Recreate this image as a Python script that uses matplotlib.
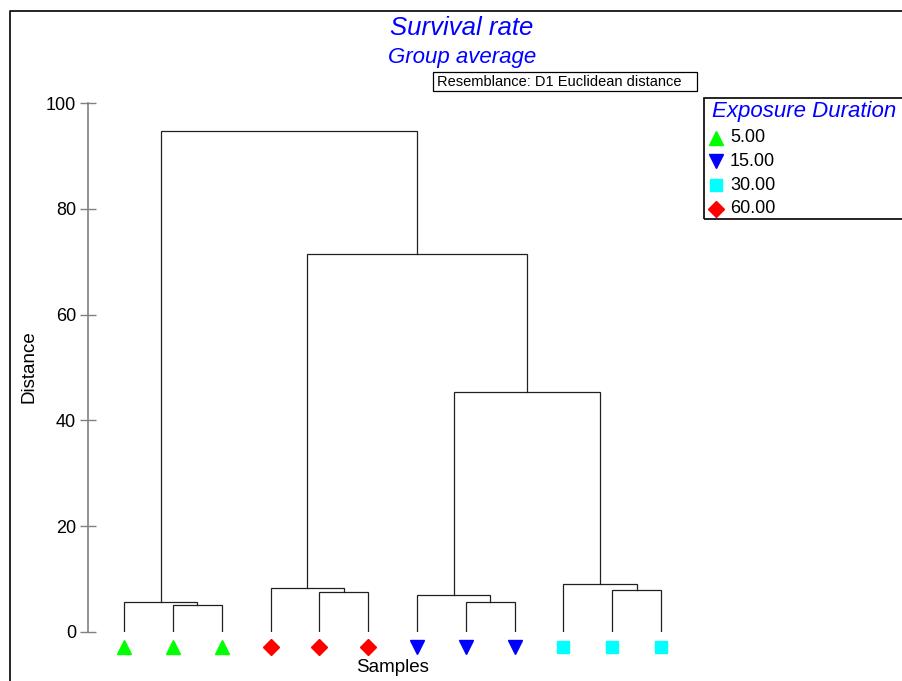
import matplotlib
matplotlib.use("Agg")
import matplotlib.pyplot as plt
from matplotlib.lines import Line2D
from matplotlib.patches import Rectangle

plt.rcParams['font.family'] = ['Liberation Sans', 'DejaVu Sans']

# ---- data ----
group_names = ['5.00', '15.00', '30.00', '60.00']
group_colors = ['#00FF00', '#0000FF', '#00FFFF', '#FF0000']
group_markers = ['^', 'v', 's', 'D']
leaf_groups = ['5.00', '5.00', '5.00', '60.00', '60.00', '60.00',
               '15.00', '15.00', '15.00', '30.00', '30.00', '30.00']
merge_left = [1, 0, 4, 3, 7, 6, 10, 9, 17, 15, 13]
merge_right = [2, 12, 5, 14, 8, 16, 11, 18, 19, 20, 21]
merge_height = [5.1, 5.6, 7.6, 8.3, 5.7, 6.9, 8.0, 9.0, 45.4, 71.5, 94.7]
y_ticks = [0, 20, 40, 60, 80, 100]

W, H = 903, 681
fig = plt.figure(figsize=(W / 100, H / 100), dpi=100)


def fx(x):
    return x / W


def fy(y):
    return 1 - y / H


ax = fig.add_axes([fx(88), fy(632), fx(700) - fx(88), fy(103) - fy(632)])
ax.set_xlim(0.26, 12.8)
ax.set_ylim(0, 100)
for s in ['top', 'right', 'bottom']:
    ax.spines[s].set_visible(False)
ax.spines['left'].set_color('#808080')
ax.spines['left'].set_bounds(0, 100)
ax.spines['left'].set_linewidth(1.2)
ax.set_xticks([])
ax.set_yticks(y_ticks)
ax.tick_params(axis='y', direction='inout', length=11, width=1, color='#808080',
               labelsize=13, pad=3)
ax.patch.set_alpha(0)

# dendrogram
n = len(leaf_groups)
node_x = {i: i + 1 for i in range(n)}
node_h = {i: 0.0 for i in range(n)}
lc = '#202020'
for k, (a, b, h) in enumerate(zip(merge_left, merge_right, merge_height)):
    xa, xb = node_x[a], node_x[b]
    ax.plot([xa, xa, xb, xb], [node_h[a], h, h, node_h[b]], color=lc, lw=0.9,
            solid_joinstyle='miter')
    node_x[n + k] = (xa + xb) / 2
    node_h[n + k] = h

# leaf markers
for i, g in enumerate(leaf_groups):
    gi = group_names.index(g)
    ms = 10 if group_markers[gi] in ('^', 'v') else (8 if group_markers[gi] == 'D' else 9)
    ax.plot([i + 1], [-2.8], marker=group_markers[gi], color=group_colors[gi],
            markersize=ms, clip_on=False, linestyle='none')

fig.text(fx(29), fy(367), 'Distance', fontsize=13.5, rotation=90,
         ha='center', va='center')
fig.text(fx(393), fy(668), 'Samples', fontsize=13.5, ha='center', va='center')

# titles
fig.text(fx(462), fy(28), 'Survival rate', fontsize=18.5, style='italic',
         color='#0000FF', ha='center', va='center')
fig.text(fx(462), fy(58), 'Group average', fontsize=16, style='italic',
         color='#0000FF', ha='center', va='center')
fig.text(fx(437), fy(82), 'Resemblance: D1 Euclidean distance', fontsize=10.5,
         ha='left', va='center')
fig.patches.append(Rectangle((fx(433), fy(91)), fx(697) - fx(433), fy(72) - fy(91),
                             transform=fig.transFigure, fill=False,
                             edgecolor='black', lw=0.9))

# figure border (top and left)
fig.lines.append(Line2D([fx(10), fx(10), fx(910)], [fy(690), fy(11), fy(11)],
                        transform=fig.transFigure, color='black', lw=1.2))

# legend
fig.patches.append(Rectangle((fx(704), fy(219)), fx(920) - fx(704), fy(98) - fy(219),
                             transform=fig.transFigure, fill=False,
                             edgecolor='black', lw=1.2, clip_on=False))
fig.text(fx(712), fy(112), 'Exposure Duration', fontsize=16, style='italic',
         color='#0000FF', ha='left', va='center')
legend_rows = [138, 161, 185, 209]
for gi, yy in enumerate(legend_rows):
    m = group_markers[gi]
    ms = 10 if m in ('^', 'v') else (8 if m == 'D' else 9)
    fig.lines.append(Line2D([fx(716)], [fy(yy)], marker=m, color=group_colors[gi],
                            markersize=ms, linestyle='none',
                            transform=fig.transFigure))
    fig.text(fx(730), fy(yy), group_names[gi], fontsize=13, ha='left', va='center')

fig.savefig('out.png', dpi=100)
